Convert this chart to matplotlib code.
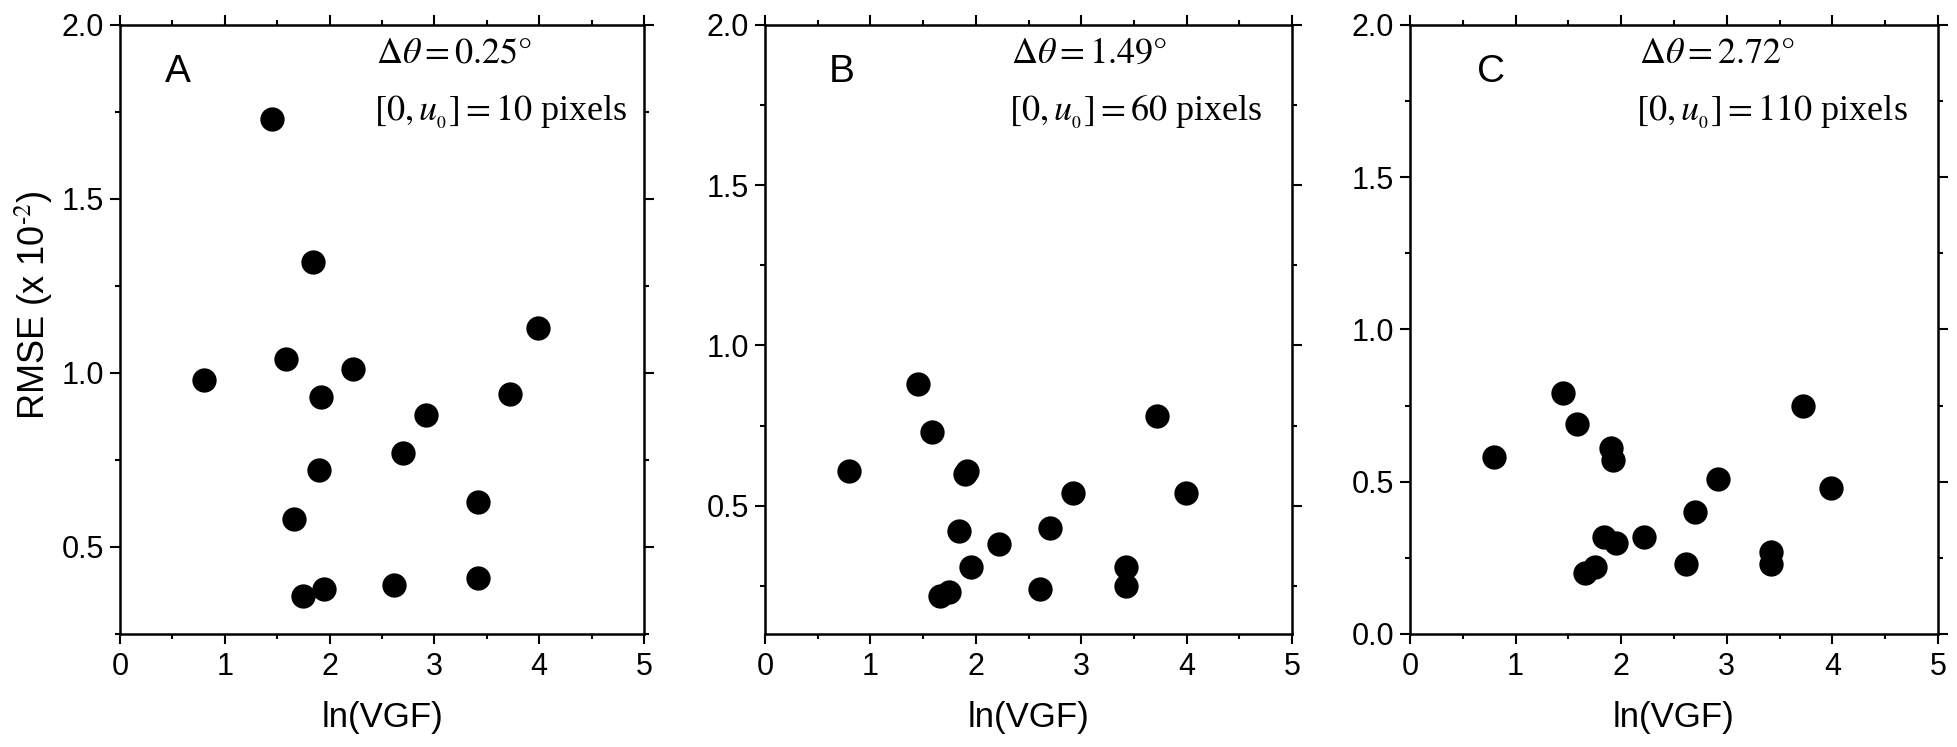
# RMSE against ln(VGF) for three angle steps (panels A, B, C)
import numpy as np
import matplotlib
matplotlib.use('Agg')
import matplotlib.pyplot as plt
from matplotlib.ticker import MultipleLocator, FormatStrFormatter

plt.rcParams['font.family'] = ['Liberation Sans', 'DejaVu Sans']
plt.rcParams['mathtext.fontset'] = 'stix'

# same ln(VGF) values in every panel
ln_vgf = [0.80, 1.45, 1.58, 1.66, 1.75, 1.84, 1.90, 1.92, 1.95,
          2.22, 2.61, 2.70, 2.92, 3.42, 3.42, 3.72, 3.99]

# RMSE (x 1e-2)
rmse_a = [0.98, 1.73, 1.04, 0.58, 0.36, 1.32, 0.72, 0.93, 0.38,
          1.01, 0.39, 0.77, 0.88, 0.63, 0.41, 0.94, 1.13]
rmse_b = [0.61, 0.88, 0.73, 0.22, 0.23, 0.42, 0.60, 0.61, 0.31,
          0.38, 0.24, 0.43, 0.54, 0.31, 0.25, 0.78, 0.54]
rmse_c = [0.58, 0.79, 0.69, 0.20, 0.22, 0.32, 0.61, 0.57, 0.30,
          0.32, 0.23, 0.40, 0.51, 0.27, 0.23, 0.75, 0.48]

panel_letters = ['A', 'B', 'C']
delta_theta = ['0.25', '1.49', '2.72']
u0_pixels = ['10', '60', '110']
ylims = [(0.25, 2.0), (0.1, 2.0), (0.0, 2.0)]

fig = plt.figure(figsize=(19.58, 7.47), dpi=100)
boxes = [[0.0613, 0.1513, 0.2676, 0.8153],
         [0.3907, 0.1513, 0.2692, 0.8153],
         [0.7201, 0.1513, 0.2697, 0.8153]]
letter_x = [0.086, 0.121, 0.127]
note_x = [0.489, 0.466, 0.433]

for i, ys in enumerate([rmse_a, rmse_b, rmse_c]):
    ax = fig.add_axes(boxes[i])
    ax.plot(ln_vgf, ys, 'o', color='black', markersize=17.5, markeredgewidth=0)
    ax.set_xlim(0, 5)
    ax.set_ylim(*ylims[i])
    ax.xaxis.set_major_locator(MultipleLocator(1))
    ax.xaxis.set_minor_locator(MultipleLocator(0.5))
    ax.yaxis.set_major_locator(MultipleLocator(0.5))
    ax.yaxis.set_minor_locator(MultipleLocator(0.25))
    ax.yaxis.set_major_formatter(FormatStrFormatter('%.1f'))
    ax.tick_params(which='both', direction='out', top=True, right=True,
                   width=1.5, labelsize=22)
    ax.tick_params(which='major', length=7)
    ax.tick_params(which='minor', length=3.6)
    ax.tick_params(axis='x', which='major', pad=6)
    ax.tick_params(axis='y', which='major', pad=4.5)
    for sp in ax.spines.values():
        sp.set_linewidth(1.8)
    ax.set_xlabel('ln(VGF)', fontsize=25, labelpad=14)
    if i == 0:
        ax.set_ylabel(r'RMSE (x 10$^{\text{-2}}$)', fontsize=26)
        ax.yaxis.set_label_coords(-0.125, 0.54)

    ax.text(letter_x[i], 0.906, panel_letters[i], transform=ax.transAxes,
            fontsize=28, ha='left', va='baseline')
    ax.text(note_x[i], 0.938, r'$\Delta\theta = %s\degree$' % delta_theta[i],
            transform=ax.transAxes, fontsize=26, ha='left', va='baseline')
    ax.text(note_x[i] - 0.004, 0.844,
            r'$\left[0,u_{_0}\right]=%s$ pixels' % u0_pixels[i],
            transform=ax.transAxes, fontsize=26, ha='left', va='baseline',
            family=['Liberation Serif', 'DejaVu Serif'])

plt.savefig('out.png', dpi=100)
